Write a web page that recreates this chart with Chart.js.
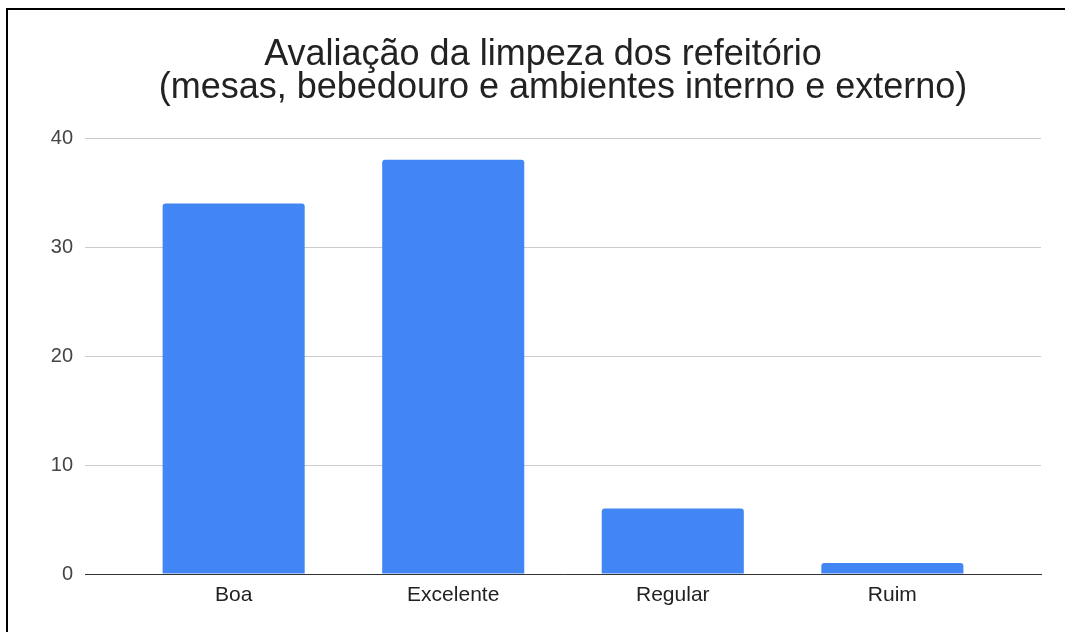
<!DOCTYPE html>
<html>
<head>
<meta charset="utf-8">
<script src="https://cdn.jsdelivr.net/npm/chart.js@4"></script>
<style>
  html, body { margin: 0; padding: 0; background: #fff; overflow: hidden; }
  #wrap { position: relative; width: 1065px; height: 632px; }
  #frame { position: absolute; left: 6px; top: 8px; width: 1120px; height: 700px;
           border: 2.5px solid #000; pointer-events: none; }
  canvas { position: absolute; left: 0; top: 0; }
</style>
</head>
<body>
<div id="wrap">
  <canvas id="myChart" width="1065" height="632"></canvas>
  <div id="frame"></div>
</div>
<script>
// dados do grafico
const categorias = ['Boa', 'Excelente', 'Regular', 'Ruim']
const valores = [34, 38, 6, 1]
const yTicks = [0, 10, 20, 30, 40]
const titulo = ['Avaliação da limpeza dos refeitório    ', '(mesas, bebedouro e ambientes interno e externo)']

Chart.defaults.font.family = "'Liberation Sans', Arial, sans-serif"

// x linear pra deixar a margem das categorias igual ao original
const pontos = categorias.map((c, i) => ({ x: i, y: valores[i] }))

let ctx = document.getElementById("myChart").getContext("2d")
let myChart = new Chart(ctx, {
    type: 'bar',
    data: {
        datasets: [{
            label: 'Respostas',
            data: pontos,
            backgroundColor: '#4285f4',
            borderRadius: { topLeft: 3, topRight: 3 },
            borderSkipped: 'start',
            barPercentage: 0.647,
            categoryPercentage: 1
        }]
    },
    options: {
        responsive: false,
        maintainAspectRatio: false,
        animation: false,
        layout: { padding: { top: 0, left: 0, right: 24, bottom: 0 } },
        plugins: {
            legend: { display: false },
            tooltip: { enabled: false },
            title: {
                display: true,
                fullSize: false,
                text: titulo,
                color: '#222',
                font: { size: 36, weight: 'normal', lineHeight: '33px' },
                padding: { top: 38.5, bottom: 33.5 }
            }
        },
        scales: {
            x: {
                type: 'linear',
                offset: false,
                z: 1,
                min: -0.677,
                max: categorias.length - 1 + 0.677,
                afterBuildTicks: (s) => { s.ticks = categorias.map((c, i) => ({ value: i })) },
                grid: { display: false },
                border: { display: true, color: '#333', width: 1 },
                ticks: {
                    color: '#222',
                    font: { size: 21 },
                    padding: 1,
                    autoSkip: false,
                    maxRotation: 0,
                    callback: (v) => categorias[v]
                },
                afterFit: (s) => { s.height = 58 }
            },
            y: {
                min: 0,
                max: 40,
                afterBuildTicks: (s) => { s.ticks = yTicks.map(v => ({ value: v })) },
                border: { display: false },
                grid: { color: '#cccccc', drawTicks: false, lineWidth: 1 },
                ticks: { color: '#444', font: { size: 20 }, padding: 12 },
                afterFit: (s) => { s.width = 85 }
            }
        }
    }
})
</script>
</body>
</html>
